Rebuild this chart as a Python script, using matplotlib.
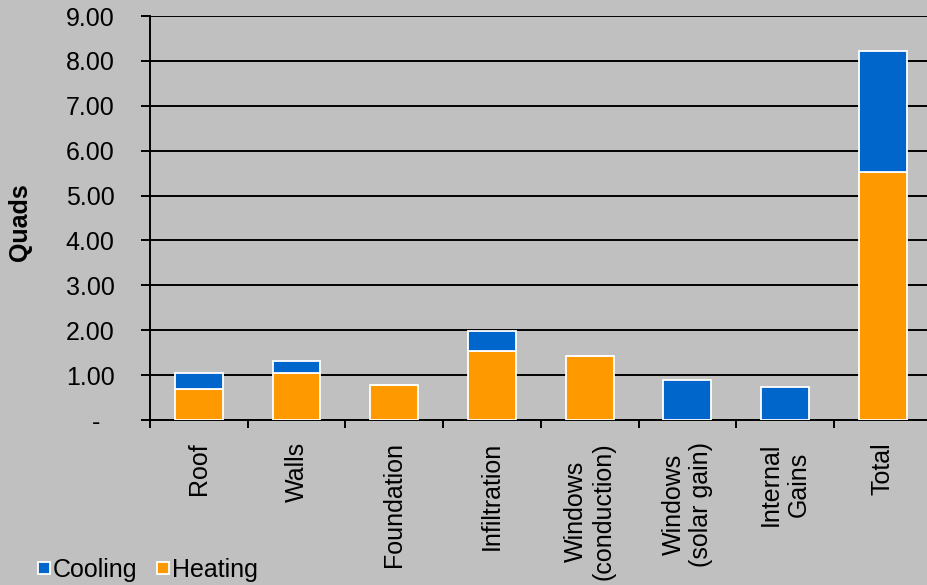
import matplotlib.pyplot as plt
from matplotlib.lines import Line2D

plt.rcParams['font.family'] = ['Liberation Sans', 'DejaVu Sans']

# data
categories = ['Roof', 'Walls', 'Foundation', 'Infiltration', 'Windows\n(conduction)',
              'Windows\n(solar gain)', 'Internal\nGains', 'Total']
heating = [0.70, 1.05, 0.79, 1.54, 1.43, 0.0, 0.0, 5.52]
cooling = [0.35, 0.27, 0.0, 0.44, 0.0, 0.88, 0.74, 2.70]
ytick_labels = ['-  ', '1.00', '2.00', '3.00', '4.00', '5.00', '6.00', '7.00', '8.00', '9.00']

bg = '#C0C0C0'
blue = '#0066CC'
orange = '#FF9900'

fig = plt.figure(figsize=(9.28, 5.85), dpi=100, facecolor=bg)
ax = fig.add_axes([150 / 928, 165 / 585, 781.6 / 928, 404 / 585], facecolor=bg)

x = list(range(len(categories)))
ax.bar(x, heating, width=0.49, color=orange, edgecolor='white', linewidth=1.3, zorder=3)
ax.bar(x, cooling, width=0.49, bottom=heating, color=blue, edgecolor='white', linewidth=1.3, zorder=3)

ax.set_ylim(0, 9)
ax.set_xlim(-0.5, len(categories) - 0.5)
ax.set_yticks(range(10))
ax.set_yticklabels(ytick_labels, fontsize=18)
ax.yaxis.grid(True, color='black', linewidth=1.4, zorder=1)
ax.set_axisbelow(True)

# ticks at category boundaries, labels at centres
ax.set_xticks([i - 0.5 for i in range(len(categories) + 1)])
ax.set_xticklabels([])
ax.set_xticks(x, minor=True)
ax.set_xticklabels(categories, minor=True, rotation=90, fontsize=18, ha='center', va='top')
ax.tick_params(axis='x', which='minor', length=0, pad=16)
ax.tick_params(axis='x', which='major', length=6, width=1.4, direction='out')
ax.tick_params(axis='y', length=6.5, width=1.4, pad=19)

for side in ['top', 'right']:
    ax.spines[side].set_visible(False)
ax.spines['left'].set_linewidth(1.4)
ax.spines['bottom'].set_linewidth(1.4)

ax.set_ylabel('Quads', fontsize=18, fontweight='bold')
ax.yaxis.set_label_coords(-118 / 781.6, 0.49)

handles = [Line2D([], [], marker='s', linestyle='', markersize=8, markerfacecolor=blue,
                  markeredgecolor='white', markeredgewidth=1.3),
           Line2D([], [], marker='s', linestyle='', markersize=8, markerfacecolor=orange,
                  markeredgecolor='white', markeredgewidth=1.3)]
fig.legend(handles, ['Cooling', 'Heating'], loc='lower left', bbox_to_anchor=(20 / 928, -14 / 585),
           ncol=2, frameon=False, fontsize=18, handlelength=0.5, handletextpad=0.1,
           columnspacing=0.8, borderpad=0.2)

fig.savefig('out.png', dpi=100, facecolor=bg)
